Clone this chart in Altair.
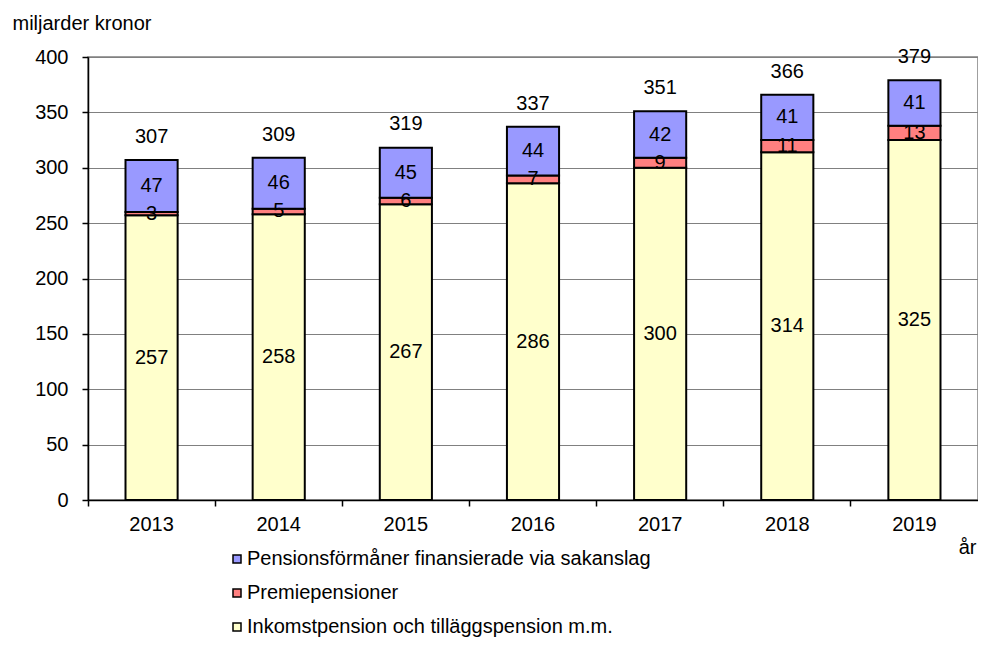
import altair as alt
import pandas as pd

years = ["2013", "2014", "2015", "2016", "2017", "2018", "2019"]
series_names = [
    "Pensionsförmåner finansierade via sakanslag",
    "Premiepensioner",
    "Inkomstpension och tilläggspension m.m.",
]
sakanslag = [47, 46, 45, 44, 42, 41, 41]
premie = [3, 5, 6, 7, 9, 11, 13]
inkomst = [257, 258, 267, 286, 300, 314, 325]
totals = [307, 309, 319, 337, 351, 366, 379]
colors = ["#9999FF", "#FF8080", "#FFFFCC"]

rows = []
for i, y in enumerate(years):
    rows.append({"year": y, "serie": series_names[2], "value": inkomst[i], "ord": 0})
    rows.append({"year": y, "serie": series_names[1], "value": premie[i], "ord": 1})
    rows.append({"year": y, "serie": series_names[0], "value": sakanslag[i], "ord": 2})
df = pd.DataFrame(rows)
tot_df = pd.DataFrame({"year": years, "total": totals})

FONT = "Liberation Sans"
FS = 20
W, H = 890, 443

xscale = alt.Scale(domain=years, paddingInner=0, paddingOuter=0)
yscale = alt.Scale(domain=[0, 400])
ytitle = "miljarder kronor"

x_axis = alt.Axis(
    bandPosition=0, labelAngle=0, tickSize=6,
    tickColor="black", tickWidth=1.5, domainColor="black", domainWidth=1.5,
    labelPadding=8, grid=False, title="år", titleX=888, titleY=53,
    titleAlign="right", titleBaseline="alphabetic", titleFontWeight="normal",
)
y_axis = alt.Axis(
    values=list(range(0, 401, 50)), tickSize=6, tickColor="black", tickWidth=1.5,
    domainColor="black", domainWidth=1.5, labelPadding=14, grid=True,
    gridColor="#808080", gridWidth=1, title=ytitle, titleAngle=0,
    titleX=-76, titleY=-28, titleAlign="left", titleBaseline="alphabetic",
    titleFontWeight="normal",
)

base = alt.Chart(df)

bars = base.mark_bar(
    stroke="black", strokeWidth=2, width=alt.RelativeBandSize(0.41)
).encode(
    x=alt.X("year:N", scale=xscale, axis=x_axis, sort=years),
    y=alt.Y("value:Q", stack="zero", scale=yscale, axis=y_axis, title=ytitle),
    color=alt.Color(
        "serie:N",
        scale=alt.Scale(domain=series_names, range=colors),
        legend=alt.Legend(
            orient="none", legendX=139, legendY=492, title=None,
            symbolType="square", symbolSize=64, symbolStrokeColor="black",
            symbolStrokeWidth=1.5, rowPadding=14, labelLimit=0, labelOffset=0,
            padding=0, direction="vertical",
        ),
    ),
    order=alt.Order("ord:Q", sort="ascending"),
)

seg_labels = base.transform_stack(
    stack="value", groupby=["year"], as_=["v0", "v1"],
    sort=[alt.SortField("ord", order="ascending")],
).transform_calculate(
    mid="(datum.v0 + datum.v1) / 2"
).mark_text(font=FONT, fontSize=FS, color="black", baseline="middle").encode(
    x=alt.X("year:N", scale=xscale, sort=years),
    y=alt.Y("mid:Q", scale=yscale, title=ytitle),
    text=alt.Text("value:Q"),
)

tot_labels = alt.Chart(tot_df).mark_text(
    font=FONT, fontSize=FS, color="black", baseline="alphabetic", dy=-17
).encode(
    x=alt.X("year:N", scale=xscale, sort=years),
    y=alt.Y("total:Q", scale=yscale, title=ytitle),
    text=alt.Text("total:Q"),
)

chart = alt.layer(bars, seg_labels, tot_labels).properties(
    width=W, height=H,
    padding={"left": 80, "top": 49, "right": 0, "bottom": 138},
    autosize=alt.AutoSizeParams(type="none"),
    background="white",
).configure_view(
    stroke="#808080", strokeWidth=1.5
).configure_axis(
    labelFont=FONT, labelFontSize=FS, labelColor="black",
    titleFont=FONT, titleFontSize=FS, titleColor="black",
).configure_legend(
    labelFont=FONT, labelFontSize=FS, labelColor="black",
)

chart.save("out.html", embed_options={"renderer": "svg", "actions": False})
